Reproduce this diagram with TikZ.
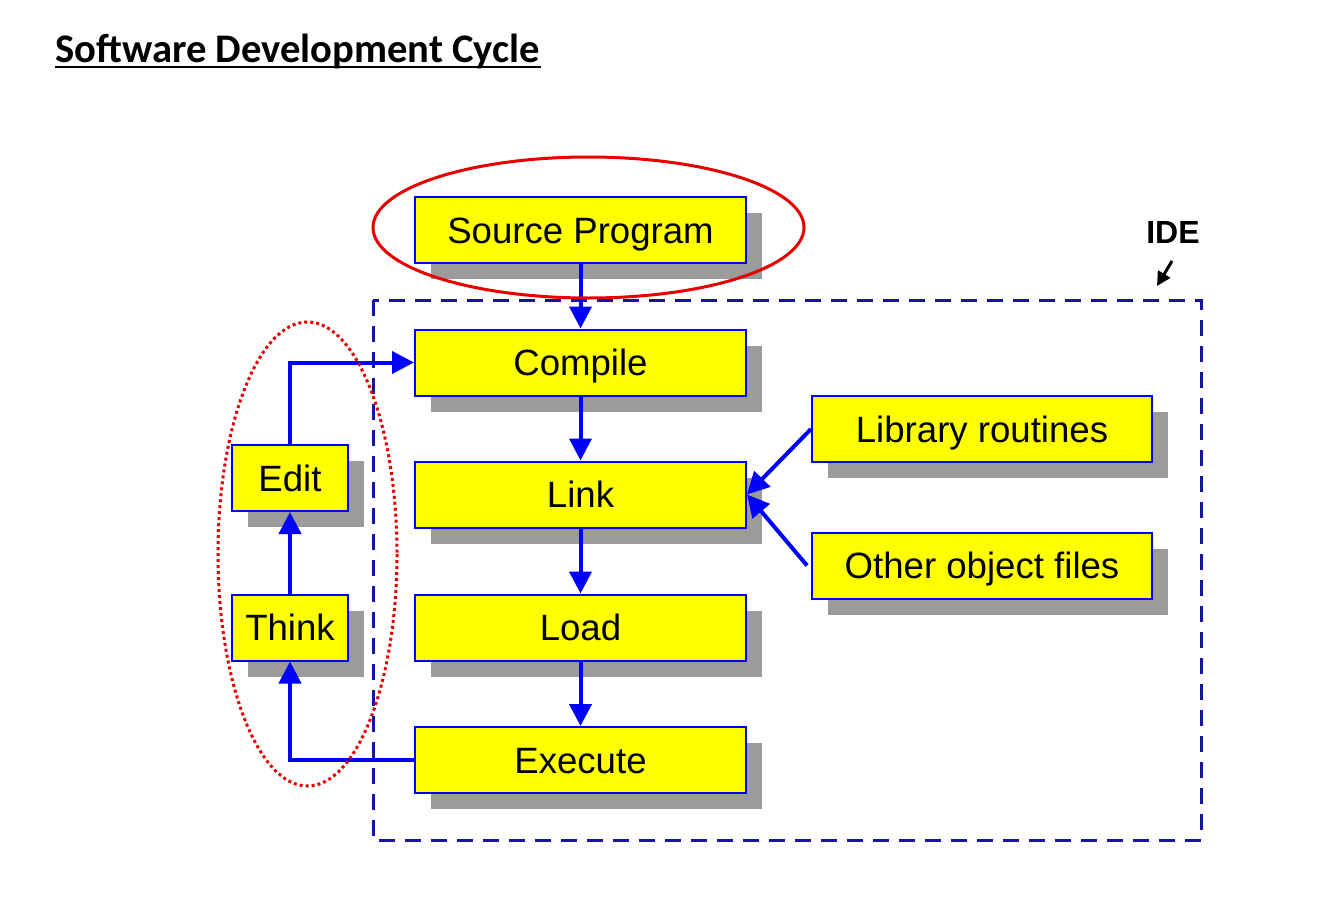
\documentclass[tikz,border=0pt]{standalone}
\usepackage{fontspec}
\setmainfont{Liberation Sans}
\newfontfamily\titlefont{Carlito}
\usetikzlibrary{arrows.meta,shadows}
\definecolor{boxyellow}{RGB}{255,255,0}
\definecolor{boxblue}{RGB}{0,0,255}
\definecolor{shadowgray}{RGB}{155,155,155}
\definecolor{idenavy}{RGB}{20,20,165}
\definecolor{ringred}{RGB}{230,0,0}

\begin{document}
\begin{tikzpicture}[x=0.5pt, y=-0.5pt,
  stage/.style={draw=boxblue, line width=1pt, fill=boxyellow, inner sep=0pt,
    minimum width=165.5pt, minimum height=33pt, text height=13.1pt, text depth=0pt,
    font=\fontsize{18.3}{22}\selectfont,
    drop shadow={shadow xshift=8pt, shadow yshift=-8pt, fill=shadowgray, opacity=1}},
  smallstage/.style={stage, minimum width=58pt},
  widestage/.style={stage, minimum width=170pt},
  flow/.style={draw=boxblue, line width=2pt, -{Triangle[length=11pt,width=11pt]}}]
\useasboundingbox (0,0) rectangle (1320,915);

% title
\node [inner sep=0pt, anchor=base west, font=\titlefont\bfseries\fontsize{20.3}{24}\selectfont] (title) at (55,62) {Software Development Cycle};
\draw [line width=1pt] ([yshift=-2.6pt]title.base west) -- ([yshift=-2.6pt]title.base east);

% IDE frame
\draw [idenavy, line width=1.5pt, dash pattern=on 8pt off 5pt] (373,300) rectangle (1201,840);
\node [font=\bfseries\fontsize{16}{19}\selectfont] (ide) at (1173,232) {IDE};
\coordinate (idetip) at (1157,286);
\draw [line width=1.5pt, -{Triangle[length=7pt,width=7pt]}] (1172,261) -- (idetip);

% main column
\node [stage] (src) at (580.5,230) {Source Program};
\node [stage] (compile) at (580.5,362.5) {Compile};
\node [stage] (link) at (580.5,494.5) {Link};
\node [stage] (load) at (580.5,627.5) {Load};
\node [stage] (exec) at (580.5,760) {Execute};

% side boxes
\node [smallstage] (edit) at (290,478) {Edit};
\node [smallstage] (think) at (290,627.5) {Think};
\node [widestage] (lib) at (982,429) {Library routines};
\node [widestage] (other) at (982,565.5) {Other object files};

% connectors
\draw [flow] (src) -- (compile);
\draw [flow] (compile) -- (link);
\draw [flow] (link) -- (load);
\draw [flow] (load) -- (exec);
\draw [flow] (lib.west) -- (link.east);
\draw [flow] ([xshift=-2pt]other.west) -- (link.east);
\draw [flow] (exec.west) -| (think.south);
\draw [flow] (think) -- (edit);
\draw [flow] (edit.north) |- (compile.west);

% rings
\draw [ringred, line width=1.5pt] (588.5,227.5) ellipse [x radius=215.5, y radius=70.5];
\draw [ringred, line width=1.5pt, dash pattern=on 1.5pt off 1.5pt] (307.5,554) ellipse [x radius=89.5, y radius=232];
\end{tikzpicture}
\end{document}
